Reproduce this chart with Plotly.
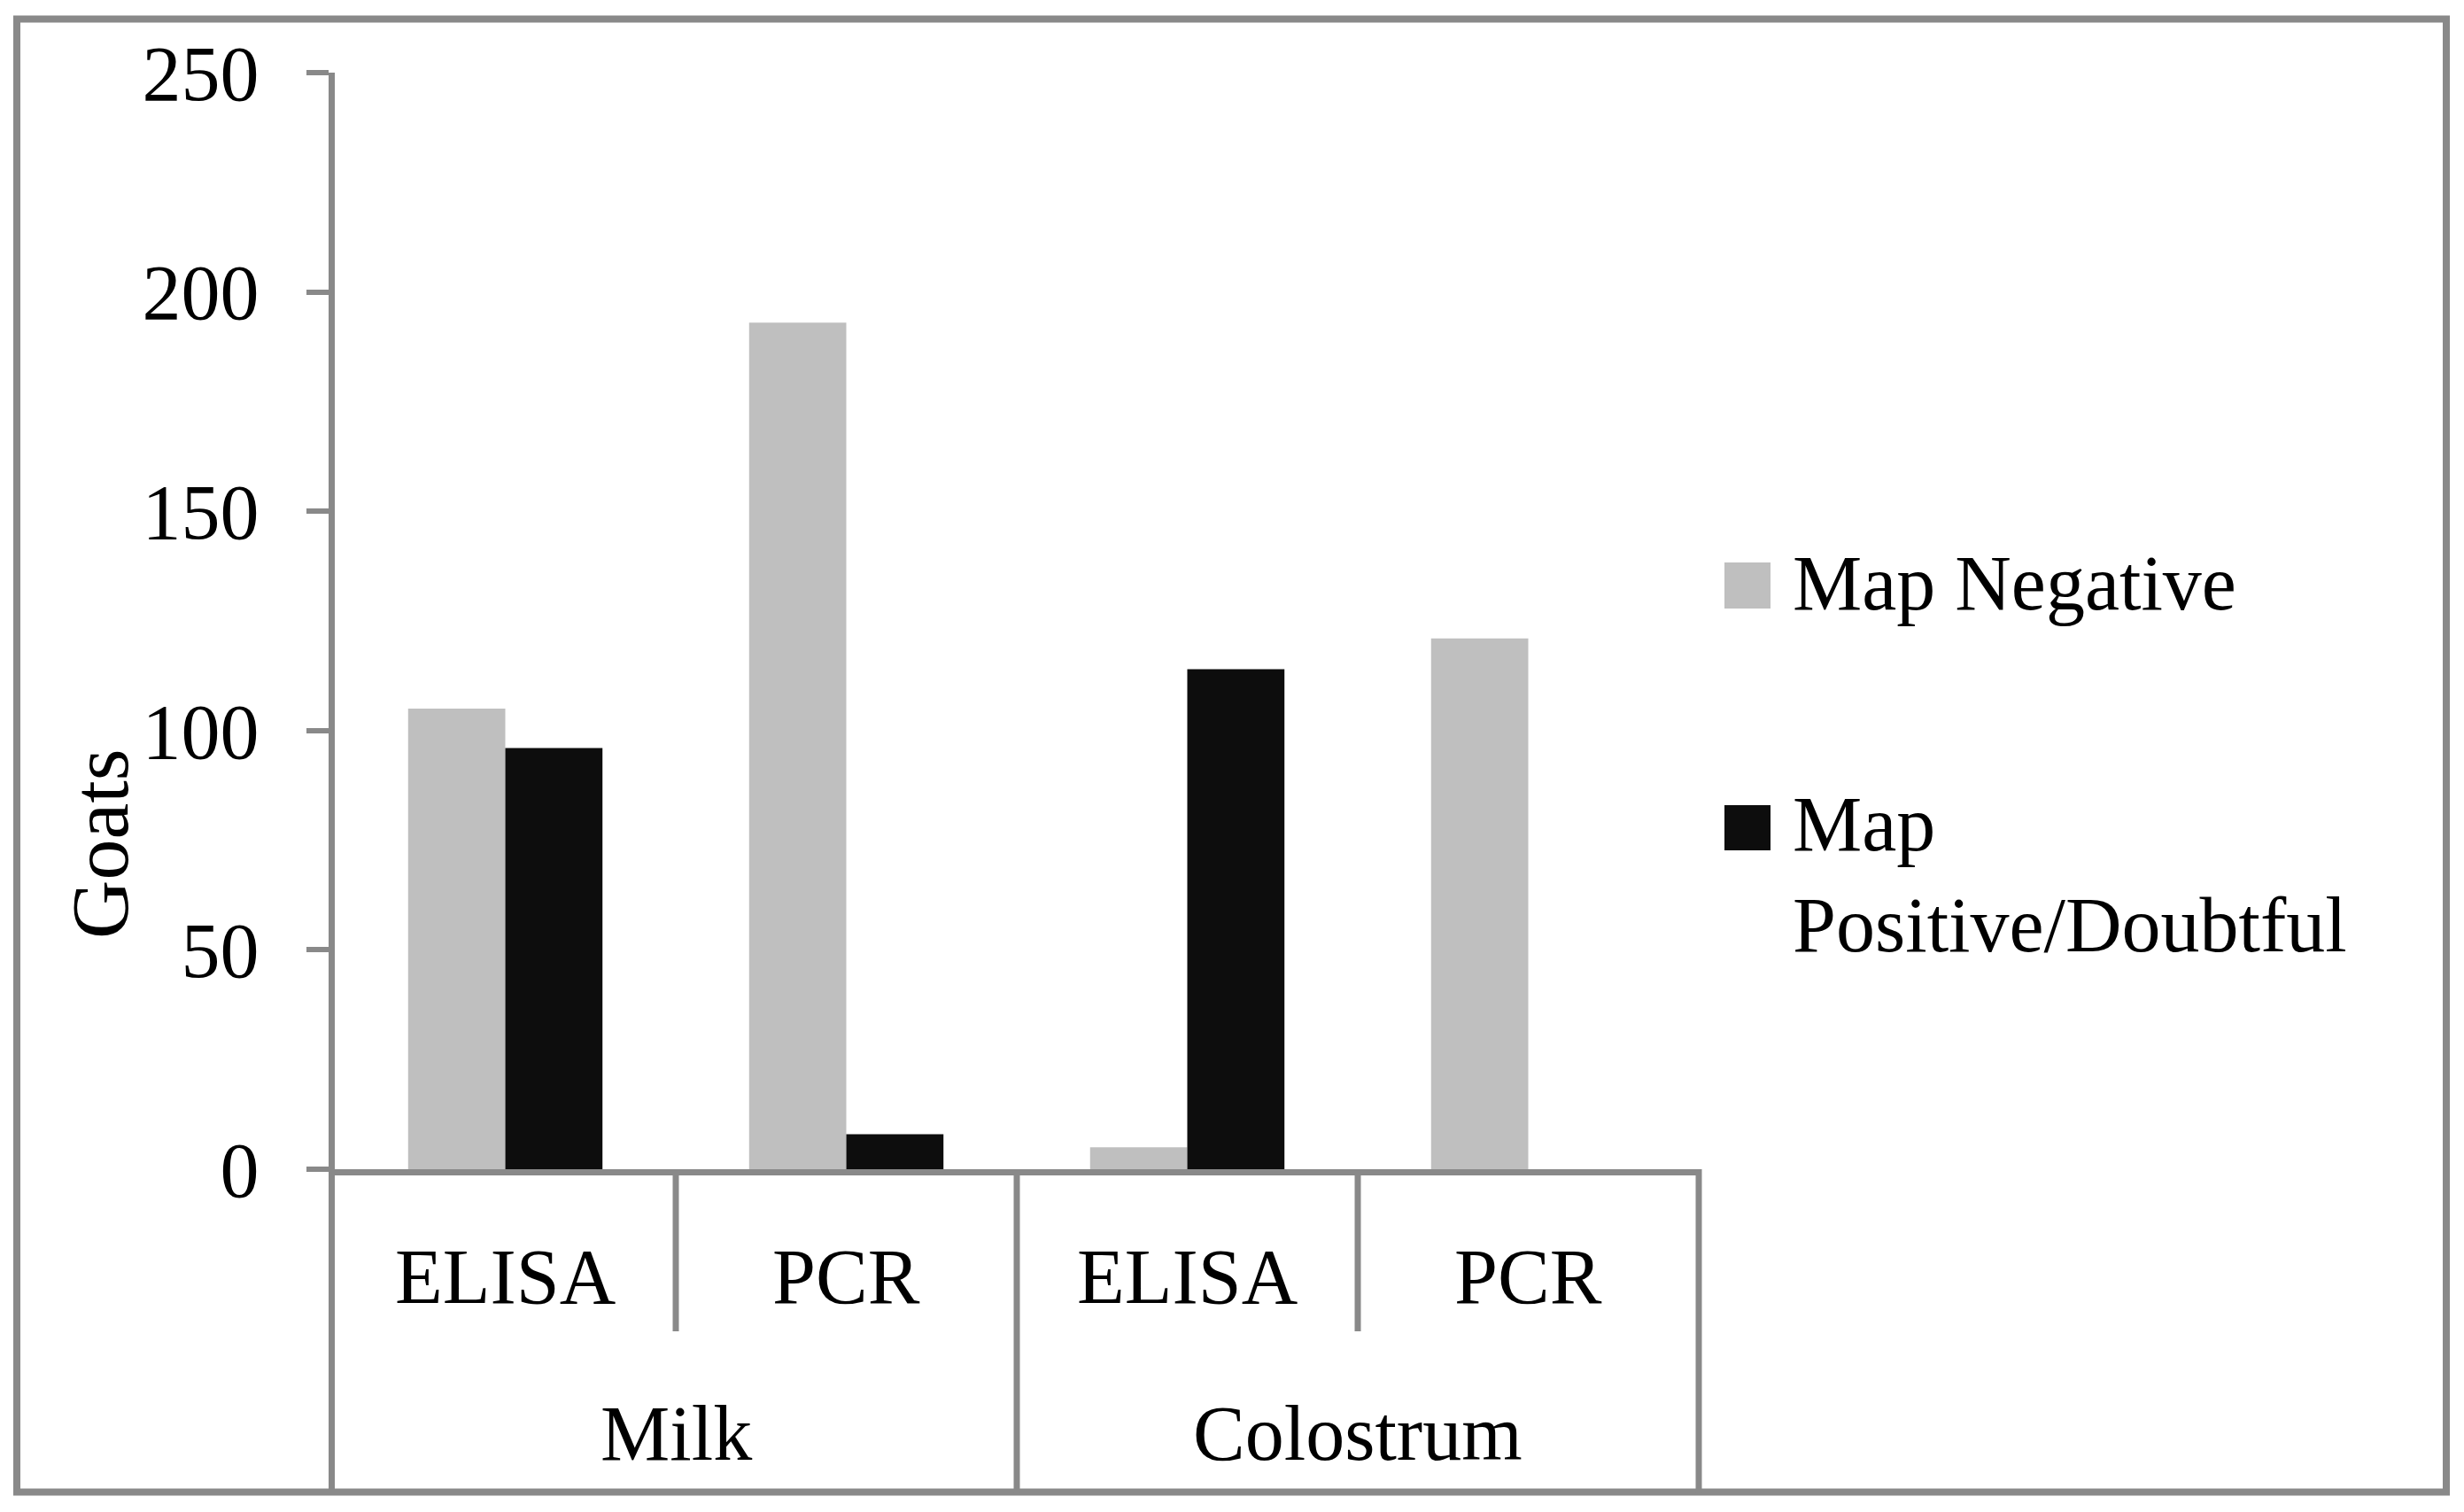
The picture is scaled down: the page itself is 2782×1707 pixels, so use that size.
import plotly.graph_objects as go

# ---- data ----
groups = ["Milk", "Milk", "Colostrum", "Colostrum"]
tests = ["ELISA", "PCR", "ELISA", "PCR"]
series_names = ["Map Negative", "Map Positive/Doubtful"]
negative = [105, 193, 5, 121]
positive = [96, 8, 114, 0]
y_ticks = [0, 50, 100, 150, 200, 250]
y_title = "Goats"
legend_lines = [["Map Negative"], ["Map", "Positive/Doubtful"]]

# ---- styling ----
W, H = 2782, 1707
L, R, T, B = 378, 1918, 82, 1320
GRAY = "#BFBFBF"
BLACK = "#0D0D0D"
LINE = "#898989"
FONT = "Liberation Serif"
FS = 88


def px(X):
    return (X - L) / (R - L)


def py(Y):
    return (B - Y) / (B - T)


fig = go.Figure()
fig.add_trace(go.Bar(x=[groups, tests], y=negative, name=series_names[0],
                     marker=dict(color=GRAY, line=dict(width=0))))
fig.add_trace(go.Bar(x=[groups, tests], y=positive, name=series_names[1],
                     marker=dict(color=BLACK, line=dict(width=0))))

shapes = []
bottom = py(1684.5)
# outer border
shapes.append(dict(type="rect", xref="paper", yref="paper",
                   x0=px(19), x1=px(2762), y0=bottom, y1=py(21.5),
                   line=dict(color=LINE, width=8), fillcolor="rgba(0,0,0,0)"))
# y axis continuation into category table
shapes.append(dict(type="line", xref="paper", yref="paper",
                   x0=px(374.5), x1=px(374.5), y0=0, y1=bottom,
                   line=dict(color=LINE, width=7)))
n = len(tests)
for i in range(1, n + 1):
    long_line = (i == n) or (groups[i - 1] != groups[i])
    y_end = bottom if long_line else py(1503)
    shapes.append(dict(type="line", xref="paper", yref="paper",
                       x0=i / n, x1=i / n, y0=0, y1=y_end,
                       line=dict(color=LINE, width=7)))

annotations = []
# inner category labels
for i, t in enumerate(tests):
    annotations.append(dict(text=t, xref="paper", yref="paper",
                            x=(i + 0.5) / n, y=py(1442), showarrow=False,
                            xanchor="center", yanchor="middle",
                            font=dict(family=FONT, size=FS, color="black")))
# outer group labels
seen = []
for g in groups:
    if g not in seen:
        seen.append(g)
for g in seen:
    idx = [i for i, gg in enumerate(groups) if gg == g]
    cx = (min(idx) + max(idx) + 1) / 2 / n
    annotations.append(dict(text=g, xref="paper", yref="paper",
                            x=cx, y=py(1618), showarrow=False,
                            xanchor="center", yanchor="middle",
                            font=dict(family=FONT, size=FS, color="black")))
# y title
annotations.append(dict(text=y_title, xref="paper", yref="paper",
                        x=px(113), y=py(953), showarrow=False, textangle=-90,
                        xanchor="center", yanchor="middle",
                        font=dict(family=FONT, size=92, color="black")))
# custom legend
legend_sq = [(635, 687), (909, 960)]
legend_text_y = [[658], [930, 1044]]
colors = [GRAY, BLACK]
for k in range(2):
    shapes.append(dict(type="rect", xref="paper", yref="paper",
                       x0=px(1947), x1=px(1999),
                       y0=py(legend_sq[k][1]), y1=py(legend_sq[k][0]),
                       line=dict(width=0), fillcolor=colors[k]))
    for line_txt, yy in zip(legend_lines[k], legend_text_y[k]):
        annotations.append(dict(text=line_txt, xref="paper", yref="paper",
                                x=px(2022), y=py(yy), showarrow=False,
                                xanchor="left", yanchor="middle",
                                font=dict(family=FONT, size=FS, color="black")))

fig.update_layout(
    width=W, height=H,
    margin=dict(l=L, r=W - R, t=T, b=H - B, autoexpand=False),
    paper_bgcolor="white", plot_bgcolor="white",
    showlegend=False,
    barmode="group", bargap=0.43, bargroupgap=0,
    shapes=shapes, annotations=annotations,
    font=dict(family=FONT, size=FS, color="black"),
)
fig.update_xaxes(showline=True, linewidth=7, linecolor=LINE, ticks="",
                 showticklabels=False, showgrid=False, zeroline=False,
                 showdividers=False)
fig.update_yaxes(range=[0, 250], tickvals=y_ticks, ticks="outside", ticklen=25,
                 tickwidth=6, tickcolor=LINE, showline=True, linewidth=7,
                 linecolor=LINE, showgrid=False, zeroline=False,
                 tickfont=dict(family=FONT, size=FS, color="black"),
                 ticklabelstandoff=36)

fig.write_html("out.html", config={"displayModeBar": False},
               post_script="document.body.style.margin='0';")
